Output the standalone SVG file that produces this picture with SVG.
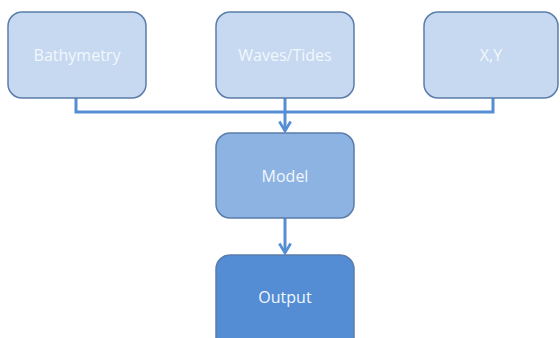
<svg xmlns="http://www.w3.org/2000/svg" width="560" height="338" viewBox="0 0 560 338">
<style>
.box{stroke:#5a7dab;stroke-width:1.5}
.in{fill:#c6d9f1}
.model{fill:#8db3e2}
.out{fill:#548dd4}
.lbl{font-family:"Open Sans","DejaVu Sans",sans-serif;font-size:16px;fill:#f2f7fc;text-anchor:middle;dominant-baseline:central}
.con{fill:none;stroke:#558ed5;stroke-width:3}
</style>
<defs>
<marker id="arr" viewBox="0 0 10 10" refX="8" refY="5" markerWidth="4.5" markerHeight="4.5" orient="auto" markerUnits="strokeWidth">
<path d="M1,0.8 L8,5 L1,9.2" fill="none" stroke="#558ed5" stroke-width="2"/>
</marker>
</defs>
<rect width="560" height="338" fill="#ffffff"/>
<g id="connectors">
<path class="con" d="M76,98 V112 H493 V98"/>
<path class="con" d="M285,98 V131" marker-end="url(#arr)"/>
<path class="con" d="M285,218 V253" marker-end="url(#arr)"/>
</g>
<g id="bathymetry"><rect class="box in" x="8" y="12" width="138" height="86" rx="14"/><text class="lbl" x="77" y="55">Bathymetry</text></g>
<g id="waves"><rect class="box in" x="216" y="12" width="138" height="86" rx="14"/><text class="lbl" x="285" y="55">Waves/Tides</text></g>
<g id="xy"><rect class="box in" x="424" y="12" width="134" height="86" rx="14"/><text class="lbl" x="491" y="55">X,Y</text></g>
<g id="model"><rect class="box model" x="216" y="133" width="138" height="85" rx="14"/><text class="lbl" x="285" y="176">Model</text></g>
<g id="output"><rect class="box out" x="216" y="255" width="138" height="100" rx="14"/><text class="lbl" x="285" y="297">Output</text></g>
</svg>
